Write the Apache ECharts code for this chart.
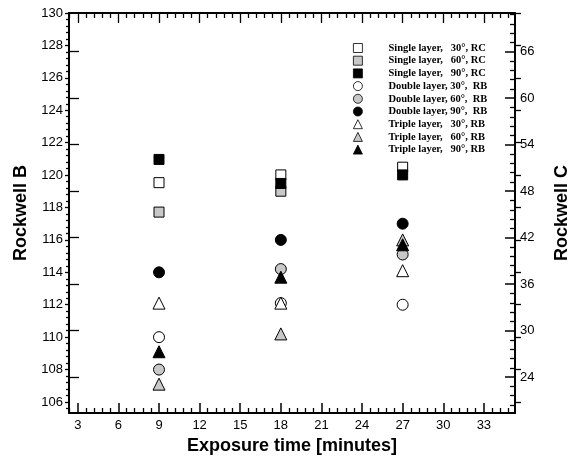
<!DOCTYPE html>
<html>
<head>
<meta charset="utf-8">
<script src="https://cdn.jsdelivr.net/npm/echarts@6/dist/echarts.min.js"></script>
<style>
html,body{margin:0;padding:0;background:#fff;}
#chart{width:579px;height:460px;}
</style>
</head>
<body>
<div id="chart"></div>
<script>
// exposure times (minutes)
var times = [9, 18, 27];

// single layer -> Rockwell C (right axis)
var single30 = [49.1, 50.1, 51.1];
var single60 = [45.3, 48.0, null];
var single90 = [52.1, 49.0, 50.1];
// double / triple layer -> Rockwell B (left axis)
var double30 = [110.0, 112.1, 112.0];
var double60 = [108.0, 114.2, 115.1];
var double90 = [114.0, 116.0, 117.0];
var triple30 = [112.1, 112.1, 114.1];
var triple60 = [107.1, 110.2, 116.0];
var triple90 = [109.1, 113.7, 115.7];

// tick labels
var xTicks = [3, 6, 9, 12, 15, 18, 21, 24, 27, 30, 33];
var bTicks = [106, 108, 110, 112, 114, 116, 118, 120, 122, 124, 126, 128, 130];
var cTicks = [24, 30, 36, 42, 48, 54, 60, 66];

var X_MIN = 2.35, X_MAX = 35.3;
var B_MIN = 105.32, B_MAX = 130;
var C_MIN = 19.37, C_MAX = 71.0;

// minor tick positions between majors
function minors(majors, step, lo, hi) {
	var out = [];
	var start = majors[0] - Math.floor((majors[0] - lo) / step) * step;
	for (var v = start; v <= hi + 1e-9; v += step) {
		var r = Math.round(v * 100) / 100;
		var isMajor = false;
		for (var i = 0; i < majors.length; i++) if (Math.abs(majors[i] - r) < 1e-6) isMajor = true;
		if (!isMajor && r >= lo && r <= hi) out.push(r);
	}
	return out;
}

var lab = {color: "#000", fontFamily: "Liberation Sans", fontSize: 13};
var nameStyle = {color: "#000", fontFamily: "Liberation Sans", fontSize: 18, fontWeight: "bold"};
var line2 = {show: true, onZero: false, lineStyle: {color: "#000", width: 2}};
var noLine = {show: false};

function tickAxis(pos, min, max, vals, len, inside, extra) {
	var a = {
		type: "value", position: pos, min: min, max: max,
		axisLine: noLine, splitLine: {show: false},
		axisLabel: {show: false},
		axisTick: {show: true, inside: inside, length: len, customValues: vals, lineStyle: {color: "#000", width: 1.3}}
	};
	for (var k in extra) a[k] = extra[k];
	return a;
}

function sym(name, data, shape, fill, size, yIdx) {
	var pts = [];
	for (var i = 0; i < times.length; i++) if (data[i] != null) pts.push([times[i], data[i]]);
	return {
		name: name, type: "scatter", xAxisIndex: 0, yAxisIndex: yIdx,
		symbol: shape, symbolSize: size, data: pts,
		itemStyle: {color: fill, borderColor: "#000", borderWidth: 1, opacity: 1},
		emphasis: {disabled: true}
	};
}

var chart = echarts.init(document.getElementById("chart"), null, {renderer: "canvas"});

var option = {
	animation: false,
	backgroundColor: "#fff",
	grid: {left: 69, right: 64, top: 13, bottom: 46, containLabel: false},
	legend: {
		orient: "vertical", left: 348, top: 37,
		itemWidth: 9, itemHeight: 9, itemGap: 0.7,
		itemStyle: {borderWidth: 0.8},
		textStyle: {color: "#000", fontFamily: "Liberation Serif", fontWeight: "bold", fontSize: 10.5, lineHeight: 12, padding: [0, 0, 0, 21]},
		selectedMode: false
	},
	xAxis: [
		{
			type: "value", position: "bottom", min: X_MIN, max: X_MAX,
			axisLine: line2, splitLine: {show: false},
			axisTick: {show: true, inside: true, length: 10, customValues: xTicks, lineStyle: {color: "#000", width: 1.5}},
			axisLabel: {show: true, customValues: xTicks, margin: 6, textStyle: lab},
			name: "Exposure time [minutes]", nameLocation: "middle", nameGap: 24, nameTextStyle: nameStyle
		},
		tickAxis("bottom", X_MIN, X_MAX, minors(xTicks, 0.6, X_MIN, X_MAX), 5, true, {}),
		tickAxis("top", X_MIN, X_MAX, xTicks, 10, true, {axisLine: line2}),
		tickAxis("top", X_MIN, X_MAX, minors(xTicks, 0.6, X_MIN, X_MAX), 5, true, {})
	],
	yAxis: [
		{
			type: "value", position: "left", min: B_MIN, max: B_MAX,
			axisLine: line2, splitLine: {show: false},
			axisTick: {show: true, inside: false, length: 4, customValues: bTicks, lineStyle: {color: "#000", width: 1.3}},
			axisLabel: {show: true, customValues: bTicks, margin: 6, textStyle: lab},
			name: "Rockwell B", nameLocation: "middle", nameRotate: 90, nameGap: 35, nameTextStyle: nameStyle
		},
		tickAxis("left", B_MIN, B_MAX, minors(bTicks, 0.4, B_MIN, B_MAX), 3, false, {}),
		tickAxis("left", C_MIN, C_MAX, cTicks, 10, true, {}),
		{
			type: "value", position: "right", min: C_MIN, max: C_MAX,
			axisLine: line2, splitLine: {show: false},
			axisTick: {show: true, inside: true, length: 10, customValues: cTicks, lineStyle: {color: "#000", width: 1.5}},
			axisLabel: {show: true, customValues: cTicks, margin: 5, textStyle: lab},
			name: "Rockwell C", nameLocation: "middle", nameRotate: 90, nameGap: 38, nameTextStyle: nameStyle
		},
		tickAxis("right", C_MIN, C_MAX, minors(cTicks, 1.2, C_MIN, C_MAX), 5, true, {}),
		tickAxis("right", B_MIN, B_MAX, bTicks, 6, false, {})
	],
	series: [
		sym("Single layer,   30°, RC", single30, "rect", "#fff", 10, 3),
		sym("Single layer,   60°, RC", single60, "rect", "#c8c8c8", 10, 3),
		sym("Single layer,   90°, RC", single90, "rect", "#000", 10, 3),
		sym("Double layer, 30°,  RB", double30, "circle", "#fff", 11, 0),
		sym("Double layer, 60°,  RB", double60, "circle", "#c8c8c8", 11, 0),
		sym("Double layer, 90°,  RB", double90, "circle", "#000", 11, 0),
		sym("Triple layer,   30°, RB", triple30, "triangle", "#fff", 12, 0),
		sym("Triple layer,   60°, RB", triple60, "triangle", "#c8c8c8", 12, 0),
		sym("Triple layer,   90°, RB", triple90, "triangle", "#000", 12, 0)
	]
};

chart.setOption(option);
</script>
</body>
</html>
